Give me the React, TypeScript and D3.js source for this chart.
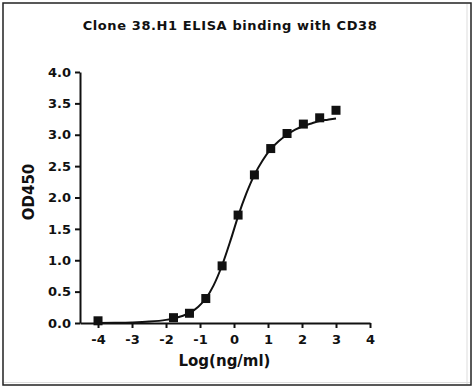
import React, { useEffect, useRef } from "react";
import * as d3 from "d3";

const title = "Clone 38.H1 ELISA binding with CD38";
const xLabel = "Log(ng/ml)";
const yLabel = "OD450";

const xTicks = [-4, -3, -2, -1, 0, 1, 2, 3, 4];
const yTicks = [0, 0.5, 1, 1.5, 2, 2.5, 3, 3.5, 4];

// measured points
const logConc = [-4, -1.78, -1.31, -0.83, -0.35, 0.12, 0.6, 1.08, 1.56, 2.04, 2.52, 3.0];
const od450 = [0.035, 0.085, 0.155, 0.39, 0.91, 1.72, 2.36, 2.78, 3.02, 3.17, 3.27, 3.39];

// fitted curve
const curveX = [-4, -3.5, -3, -2.5, -2, -1.78, -1.5, -1.31, -1.05, -0.83, -0.6, -0.35, -0.1, 0.12, 0.36, 0.6, 0.84, 1.08, 1.32, 1.56, 1.8, 2.04, 2.28, 2.52, 2.76, 3.0];
const curveY = [0.0, 0.003, 0.009, 0.022, 0.05, 0.072, 0.115, 0.16, 0.26, 0.39, 0.6, 0.92, 1.32, 1.7, 2.06, 2.36, 2.59, 2.77, 2.9, 3.0, 3.08, 3.14, 3.18, 3.22, 3.24, 3.26];

const W = 474;
const H = 388;
const FONT = "'DejaVu Sans', sans-serif";

export default function App() {
  const xAxisRef = useRef<SVGGElement>(null);
  const yAxisRef = useRef<SVGGElement>(null);

  const x = d3.scaleLinear().domain([-4.53, 4]).range([80, 370]);
  const y = d3.scaleLinear().domain([0, 4]).range([323, 72]);

  useEffect(() => {
    const gx = d3.select(xAxisRef.current!);
    gx.selectAll("*").remove();
    gx.call(
      d3
        .axisBottom(x)
        .tickValues(xTicks)
        .tickSize(5)
        .tickSizeOuter(0)
        .tickPadding(7)
        .tickFormat((d) => String(d))
    );
    const gy = d3.select(yAxisRef.current!);
    gy.selectAll("*").remove();
    gy.call(
      d3.axisLeft(y).tickValues(yTicks).tickSize(5).tickSizeOuter(0).tickPadding(4).tickFormat(d3.format(".1f"))
    );
    [gx, gy].forEach((g) => {
      g.attr("font-family", FONT).attr("font-size", 13).attr("font-weight", "bold");
      g.selectAll("path,line").attr("stroke", "#111").attr("stroke-width", 2);
      g.selectAll("text").attr("fill", "#111");
    });
  }, []);

  const line = d3
    .line<number>()
    .x((_, i) => x(curveX[i]))
    .y((d) => y(d))
    .curve(d3.curveMonotoneX);

  const ms = 9;

  return (
    <svg
      width={W}
      height={H}
      style={{ position: "absolute", left: 0, top: 0, display: "block", background: "#fff" }}
    >
      <rect x={0} y={0} width={W} height={H} fill="#fff" />
      <rect x={3} y={3} width={468} height={382} fill="none" stroke="#222" strokeWidth={1.5} />
      <line x1={467} y1={4} x2={467} y2={384} stroke="#ddd" strokeWidth={1} />
      <line x1={4} y1={382.5} x2={470} y2={382.5} stroke="#ddd" strokeWidth={1} />
      <text
        x={230}
        y={30}
        textAnchor="middle"
        fontFamily={FONT}
        fontWeight="bold"
        fontSize={13}
        letterSpacing={0.6}
        fill="#111"
      >
        {title}
      </text>
      <g ref={xAxisRef} transform={`translate(0,${y(0)})`} />
      <g ref={yAxisRef} transform={`translate(80,0)`} />
      <path d={line(curveY) || ""} fill="none" stroke="#111" strokeWidth={2} />
      {logConc.map((v, i) => (
        <rect
          key={i}
          x={x(v) - ms / 2}
          y={y(od450[i]) - ms / 2}
          width={ms}
          height={ms}
          fill="#111"
        />
      ))}
      <text
        x={224.5}
        y={366}
        textAnchor="middle"
        fontFamily={FONT}
        fontWeight="bold"
        fontSize={15}
        fill="#111"
      >
        {xLabel}
      </text>
      <text
        transform={`translate(33.5,192) rotate(-90)`}
        textAnchor="middle"
        fontFamily={FONT}
        fontWeight="bold"
        fontSize={15}
        fill="#111"
      >
        {yLabel}
      </text>
    </svg>
  );
}
